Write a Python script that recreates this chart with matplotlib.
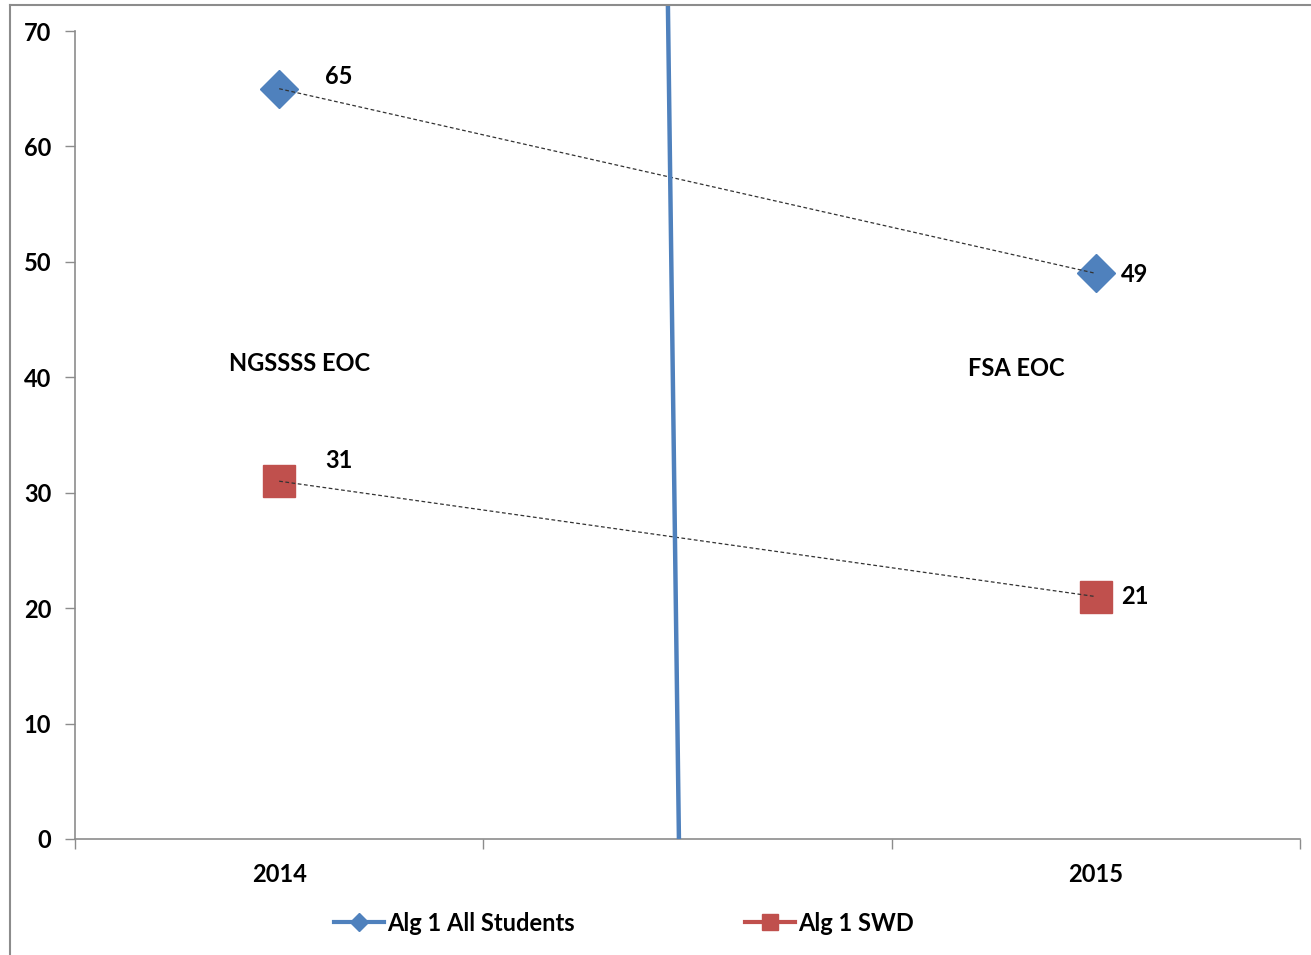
import matplotlib
matplotlib.use("Agg")
import matplotlib.pyplot as plt
from matplotlib.lines import Line2D

plt.rcParams['font.family'] = ['Lato', 'DejaVu Sans']

categories = ["2014", "2015"]
all_students = [65, 49]
swd = [31, 21]
series_names = ["Alg 1 All Students", "Alg 1 SWD"]
test_labels = ["NGSSSS EOC", "FSA EOC"]

blue = "#4F81BD"
red = "#C0504D"

fig = plt.figure(figsize=(13.11, 9.55), dpi=100)
ax = fig.add_axes([75/1311, 1-839/955, (1300-75)/1311, (839-31)/955])

xpos = [0.5, 2.5]
ax.plot(xpos, all_students, ls="none", marker="D", ms=19, color=blue, zorder=3)
ax.plot(xpos, swd, ls="none", marker="s", ms=23, color=red, zorder=3)
ax.plot(xpos, all_students, color="#333333", lw=0.9, ls=(0, (3, 2)), zorder=4)
ax.plot(xpos, swd, color="#333333", lw=0.9, ls=(0, (3, 2)), zorder=4)

fs = 17
# data labels
ax.annotate(str(all_students[0]), (xpos[0], all_students[0]), xytext=(60, 12), textcoords="offset pixels",
            ha="center", va="center", fontsize=fs, fontweight="bold")
ax.annotate(str(all_students[1]), (xpos[1], all_students[1]), xytext=(39, -1), textcoords="offset pixels",
            ha="center", va="center", fontsize=fs, fontweight="bold")
ax.annotate(str(swd[0]), (xpos[0], swd[0]), xytext=(60, 21), textcoords="offset pixels",
            ha="center", va="center", fontsize=fs, fontweight="bold")
ax.annotate(str(swd[1]), (xpos[1], swd[1]), xytext=(39, 0), textcoords="offset pixels",
            ha="center", va="center", fontsize=fs, fontweight="bold")

# test labels
ax.text(0.55, 41.2, test_labels[0], ha="center", va="center", fontsize=fs, fontweight="bold")
ax.text(2.305, 40.8, test_labels[1], ha="center", va="center", fontsize=fs, fontweight="bold")

# vertical divider line (slightly slanted, extends above plot)
ax.plot([1.452, 1.479], [72.3, 0], color=blue, lw=3.2, clip_on=False, zorder=5, solid_capstyle="butt")

ax.set_xlim(0, 3)
ax.set_ylim(0, 70)
ax.set_yticks(range(0, 71, 10))
ax.set_xticks([0, 1, 2, 3])
ax.set_xticklabels([])
ax.set_xticks(xpos, minor=True)
ax.set_xticklabels(categories, minor=True)

for s in ["top", "right"]:
    ax.spines[s].set_visible(False)
for s in ["left", "bottom"]:
    ax.spines[s].set_color("#8c8c8c")
    ax.spines[s].set_linewidth(1.2)

ax.tick_params(axis="y", direction="out", length=7, width=1, color="#8c8c8c", pad=10,
               labelsize=fs)
ax.tick_params(axis="x", which="major", direction="out", length=7, width=1, color="#8c8c8c")
ax.tick_params(axis="x", which="minor", length=0, pad=17, labelsize=fs)
for lbl in ax.get_yticklabels() + ax.get_xticklabels(minor=True):
    lbl.set_fontweight("bold")

handles = [Line2D([], [], color=blue, lw=3, marker="D", ms=9),
           Line2D([], [], color=red, lw=3, marker="s", ms=11)]
leg = fig.legend(handles, series_names, loc="center", bbox_to_anchor=(624/1311, 1-923/955),
                 ncol=2, frameon=False, prop={"weight": "bold", "size": fs},
                 handlelength=2.1, handletextpad=0.15, columnspacing=7.2)

# figure border (top and left visible)
fig.add_artist(Line2D([10/1311, 10/1311], [0, 1-5/955], color="#8c8c8c", lw=1.5))
fig.add_artist(Line2D([10/1311, 1], [1-5/955, 1-5/955], color="#8c8c8c", lw=1.5))

fig.savefig("out.png", dpi=100)
